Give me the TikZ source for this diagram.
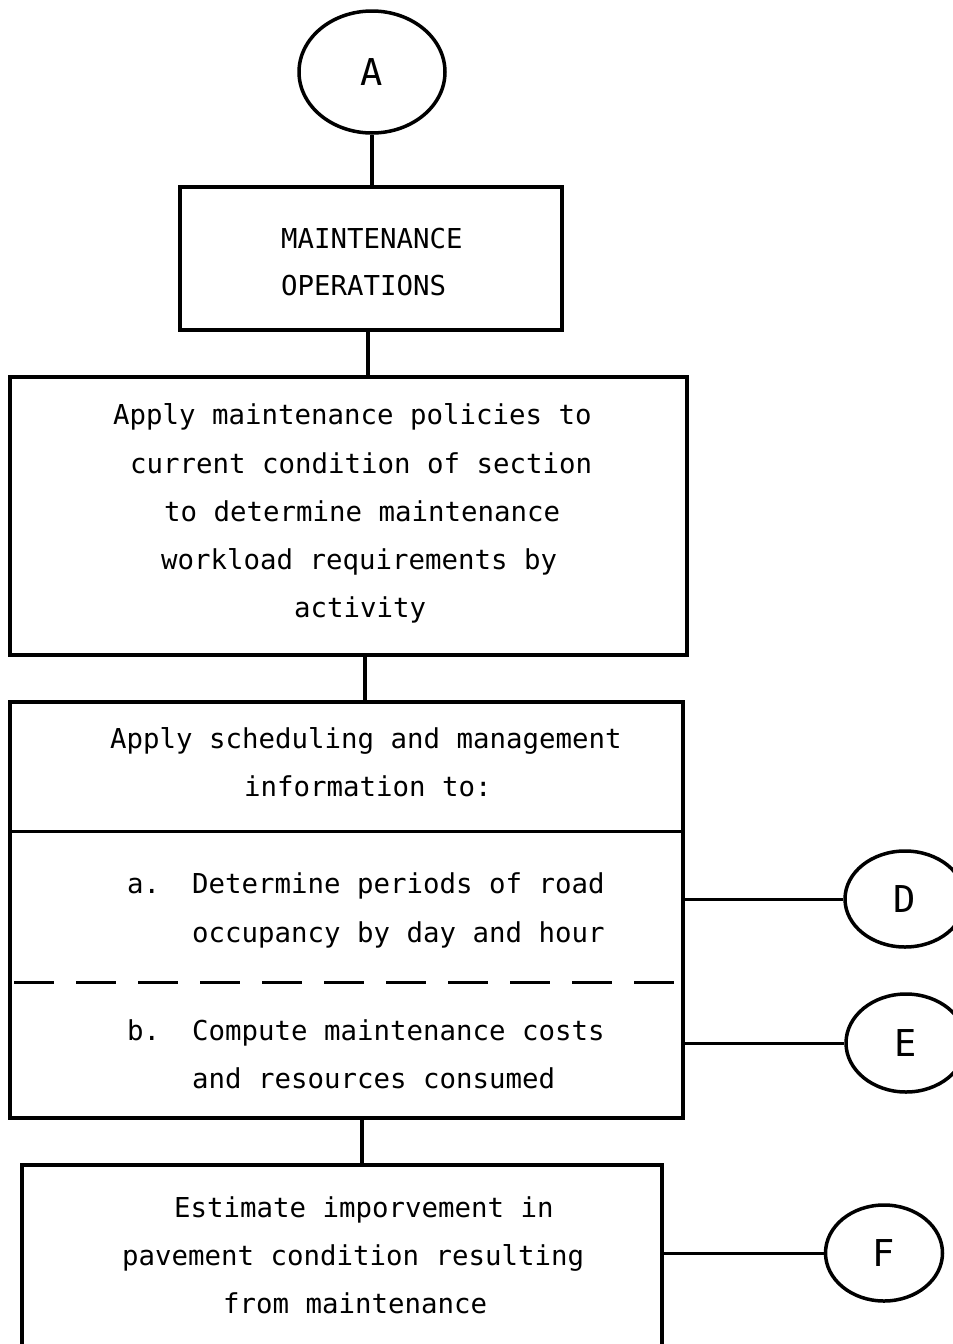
\documentclass[tikz,border=0pt]{standalone}
\usepackage{fontspec}
\setmonofont{DejaVu Sans Mono}
\usetikzlibrary{shapes.geometric}
\tikzset{
  box/.style={draw, line width=3.5pt, rectangle, inner sep=0pt},
  conn/.style={line width=4pt},
  side/.style={line width=3pt},
  label/.style={ellipse, draw, line width=3.5pt, inner sep=0pt,
    font=\ttfamily\fontsize{37}{37}\selectfont},
  line/.style={anchor=base west, inner sep=0pt,
    font=\ttfamily\fontsize{27.4}{27.4}\selectfont}
}
\begin{document}
\begin{tikzpicture}[x=1pt, y=-1pt]
\useasboundingbox (0,0) rectangle (953,1344);
\clip (0,0) rectangle (953,1344);
\fill[white] (0,0) rectangle (953,1344);

% connector circles
\node[label, minimum width=146pt, minimum height=122pt] (A) at (372,72) {A};
\node[label, minimum width=120pt, minimum height=96pt] (D) at (905,899) {D};
\node[label, minimum width=120pt, minimum height=98pt] (E) at (906,1043) {E};
\node[label, minimum width=117pt, minimum height=96pt] (F) at (884,1253) {F};

% boxes
\node[box, minimum width=382pt, minimum height=143pt] (ops) at (371,258.5) {};
\node[box, minimum width=677pt, minimum height=278pt] (pol) at (348.5,516) {};
\node[box, minimum width=673pt, minimum height=416pt] (sch) at (346.5,910) {};
\node[box, minimum width=640pt, minimum height=210pt] (est) at (342,1270) {};

% dividers inside the scheduling box
\coordinate (divL) at (sch.west |- 0,831);
\coordinate (dashL) at (sch.west |- 0,982);
\draw[line width=3pt] (divL) -- (divL -| sch.east);
\draw[line width=3pt, dash pattern=on 40pt off 22pt, dash phase=-6pt] (dashL) -- (dashL -| sch.east);

% vertical flow connectors
\draw[conn] (A.south) -- (A.south |- ops.north);
\draw[conn] ([xshift=-3pt]ops.south) -- ([xshift=-3pt]ops.south |- pol.north);
\draw[conn] ([xshift=16.5pt]pol.south) -- ([xshift=16.5pt]pol.south |- sch.north);
\draw[conn] ([xshift=15.5pt]sch.south) -- ([xshift=15.5pt]sch.south |- est.north);

% side connectors
\draw[side] (D.west) -- (D.west -| sch.east);
\draw[side] (E.west) -- (E.west -| sch.east);
\draw[side] (F.west) -- (F.west -| est.east);

% texts
\node[line] (o1) at (281,248) {MAINTENANCE};
\node[line] (o2) at (281,295) {OPERATIONS};

\node[line] (p1) at (113,424) {Apply maintenance policies to};
\node[line] (p2) at (130,473) {current condition of section};
\node[line] (p3) at (164,521) {to determine maintenance};
\node[line] (p4) at (161,569) {workload requirements by};
\node[line] (p5) at (294,617) {activity};

\node[line] (s1) at (110,748) {Apply scheduling and management};
\node[line] (s2) at (244,796) {information to:};

\node[line] (a0) at (127,893) {a.};
\node[line] (a1) at (192,893) {Determine periods of road};
\node[line] (a2) at (192,942) {occupancy by day and hour};

\node[line] (b0) at (127,1040) {b.};
\node[line] (b1) at (192,1040) {Compute maintenance costs};
\node[line] (b2) at (192,1088) {and resources consumed};

\node[line] (e1) at (174,1217) {Estimate imporvement in};
\node[line] (e2) at (122,1265) {pavement condition resulting};
\node[line] (e3) at (223,1313) {from maintenance};
\end{tikzpicture}
\end{document}
